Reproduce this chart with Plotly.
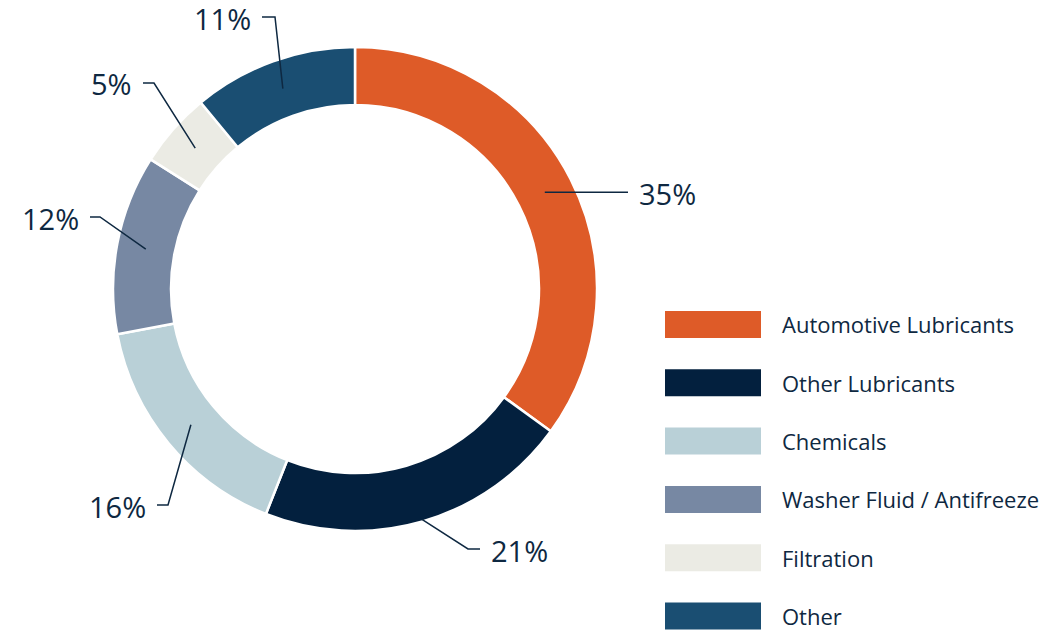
import math
import plotly.graph_objects as go

# ---- data ----
categories = ["Automotive Lubricants", "Other Lubricants", "Chemicals",
              "Washer Fluid / Antifreeze", "Filtration", "Other"]
shares = [35, 21, 16, 12, 5, 11]
colors = ["#DE5B28", "#03203E", "#B9D0D7", "#7788A3", "#EBEBE4", "#1A4E72"]

# ---- layout constants (pixels) ----
W, H = 1059, 630
CX, CY = 355, 289          # donut centre
R_OUT = 242
R_IN = 184
TEXT = "#0E2841"
FONT = "Open Sans"

def px(x):
    return x / W

def py(y):
    return 1 - y / H

fig = go.Figure()
fig.add_trace(go.Pie(
    labels=categories, values=shares, sort=False, direction="clockwise",
    rotation=0, hole=R_IN / R_OUT, textinfo="none", hoverinfo="label+percent",
    marker=dict(colors=colors, line=dict(color="white", width=2.5)),
    domain=dict(x=[px(CX - R_OUT), px(CX + R_OUT)],
                y=[py(CY + R_OUT), py(CY - R_OUT)]),
    showlegend=False,
))

# leader-line label placement (style): text anchor point, side, start radius
label_style = [
    dict(tx=637, ty=193, side="right", r=213, elbow=None),
    dict(tx=489, ty=550, side="right", r=240, elbow=12),
    dict(tx=148, ty=506, side="left", r=213, elbow=11),
    dict(tx=81, ty=218, side="left", r=213, elbow=10),
    dict(tx=134, ty=84, side="left", r=213, elbow=11),
    dict(tx=253, ty=18, side="left", r=213, elbow=13),
]

total = sum(shares)
shapes = []
annotations = []
cum = 0
for val, st in zip(shares, label_style):
    mid = (cum + val / 2) / total * 2 * math.pi
    cum += val
    sx = CX + st["r"] * math.sin(mid)
    sy = CY - st["r"] * math.cos(mid)
    if st["side"] == "right":
        hx = st["tx"] - 9
        if st["elbow"] is None:
            path = f"M {px(sx)} {py(sy)} L {px(hx)} {py(sy)}"
        else:
            ex = hx - st["elbow"]
            path = (f"M {px(sx)} {py(sy)} L {px(ex)} {py(st['ty'] - 1)} "
                    f"L {px(hx)} {py(st['ty'] - 1)}")
        xanchor = "left"
    else:
        hx = st["tx"] + 9
        ex = hx + st["elbow"]
        path = (f"M {px(hx)} {py(st['ty'] - 1)} L {px(ex)} {py(st['ty'] - 1)} "
                f"L {px(sx)} {py(sy)}")
        xanchor = "right"
    shapes.append(dict(type="path", path=path, xref="paper", yref="paper",
                       line=dict(color=TEXT, width=1.5)))
    annotations.append(dict(x=px(st["tx"]), y=py(st["ty"]), xref="paper",
                            yref="paper", text=f"{val}%", showarrow=False,
                            xanchor=xanchor, yanchor="middle",
                            font=dict(family=FONT, size=29, color=TEXT)))

# custom legend with wide swatches
LEG_X0, LEG_X1 = 665, 761
LEG_Y0, LEG_DY, SW_H = 324.5, 58.3, 27
for i, (cat, col) in enumerate(zip(categories, colors)):
    yc = LEG_Y0 + i * LEG_DY
    shapes.append(dict(type="rect", xref="paper", yref="paper",
                       x0=px(LEG_X0), x1=px(LEG_X1),
                       y0=py(yc + SW_H / 2), y1=py(yc - SW_H / 2),
                       fillcolor=col, line=dict(width=0)))
    annotations.append(dict(x=px(780), y=py(yc), xref="paper", yref="paper",
                            text=cat, showarrow=False, xanchor="left",
                            yanchor="middle",
                            font=dict(family=FONT, size=22, color=TEXT)))

fig.update_layout(
    width=W, height=H, margin=dict(l=0, r=0, t=0, b=0),
    paper_bgcolor="white", plot_bgcolor="white",
    shapes=shapes, annotations=annotations, showlegend=False,
)
fig.write_html("out.html",
               config={"displayModeBar": False},
               post_script="document.body.style.margin='0';"
                           "document.body.style.overflow='hidden';")
